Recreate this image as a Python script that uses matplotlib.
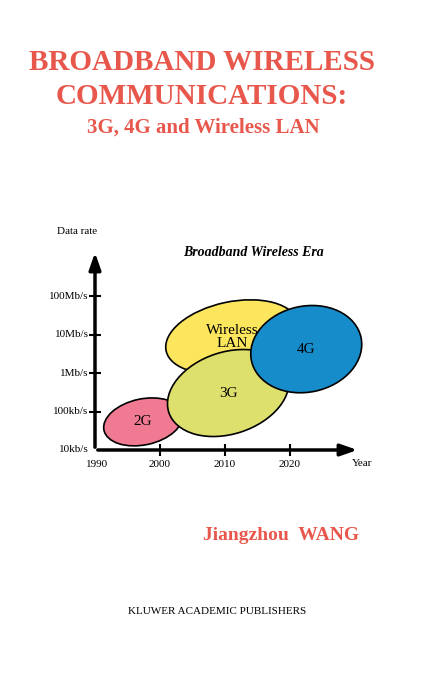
import matplotlib
matplotlib.use("Agg")
import matplotlib.pyplot as plt
from matplotlib.patches import Ellipse
from matplotlib.transforms import Affine2D, ScaledTranslation

years = [1990, 2000, 2010, 2020]
rate_labels = ["10kb/s", "100kb/s", "1Mb/s", "10Mb/s", "100Mb/s"]
tech = ["2G", "Wireless\nLAN", "3G", "4G"]
tech_year = [1997.4, 2011.1, 2010.5, 2022.5]
tech_level = [0.73, 2.94, 1.48, 2.62]
tech_colors = ["#f07a92", "#fce65e", "#dde06c", "#178ccb"]
ell_w = [80, 135, 125, 112]
ell_h = [46, 70, 82, 86]
ell_ang = [12, 12, 18, 12]

red = "#e8574c"
serif = "Liberation Serif"
fig = plt.figure(figsize=(4.25, 6.75), dpi=100)
fig.patch.set_facecolor("white")

def ft(px, py, s, **kw):
    fig.text(px / 425, 1 - py / 675, s, family=serif, **kw)

ft(202, 62, "BROADBAND WIRELESS", color=red, fontsize=21, weight="bold", ha="center", va="center")
ft(202, 97, "COMMUNICATIONS:", color=red, fontsize=21, weight="bold", ha="center", va="center")
ft(203, 128, "3G, 4G and Wireless LAN", color=red, fontsize=15, weight="bold", ha="center", va="center")
ft(57, 232, "Data rate", fontsize=8, ha="left", va="center")
ft(253, 253, "Broadband Wireless Era", fontsize=10, weight="bold", style="italic", ha="center", va="center")
ft(352, 464, "Year", fontsize=8, ha="left", va="center")
ft(281, 535, "Jiangzhou  WANG", color=red, fontsize=14, weight="bold", ha="center", va="center")
ft(217, 612, "KLUWER ACADEMIC PUBLISHERS", fontsize=8, ha="center", va="center")

ax = fig.add_axes([95 / 425, (675 - 450) / 675, 325 / 425, 231 / 675])
ax.set_xlim(1990, 2040)
ax.set_ylim(0, 6)
for s in ax.spines.values():
    s.set_visible(False)
ax.patch.set_alpha(0)
ax.annotate("", xy=(2030.8, 0), xytext=(1990, 0),
            arrowprops=dict(arrowstyle="-|>,head_length=1.0,head_width=0.35", color="black", lw=2.5))
ax.annotate("", xy=(1990, 5.2), xytext=(1990, 0),
            arrowprops=dict(arrowstyle="-|>,head_length=1.0,head_width=0.35", color="black", lw=2.5))
ax.set_xticks(years[1:])
ax.set_xticklabels([])
ax.set_yticks(range(1, len(rate_labels)))
ax.set_yticklabels([])
ax.tick_params(direction="inout", length=8, width=1.5)
for y in years:
    ax.text(y + (0.3 if y == 1990 else 0), -0.38, str(y), family=serif, fontsize=8, ha="center", va="center")
for i, lab in enumerate(rate_labels):
    ax.text(1989.0, i, lab, family=serif, fontsize=8, ha="right", va="center")

for name, x, y, c, w, h, a in zip(tech, tech_year, tech_level, tech_colors, ell_w, ell_h, ell_ang):
    tr = Affine2D() + ScaledTranslation(x, y, ax.transData)
    ax.add_patch(Ellipse((0, 0), w, h, angle=a, transform=tr, facecolor=c, edgecolor="black", lw=1.2))
    ax.text(x, y, name, family=serif, fontsize=11, ha="center", va="center", linespacing=0.95)

fig.savefig("out.png", dpi=100)
